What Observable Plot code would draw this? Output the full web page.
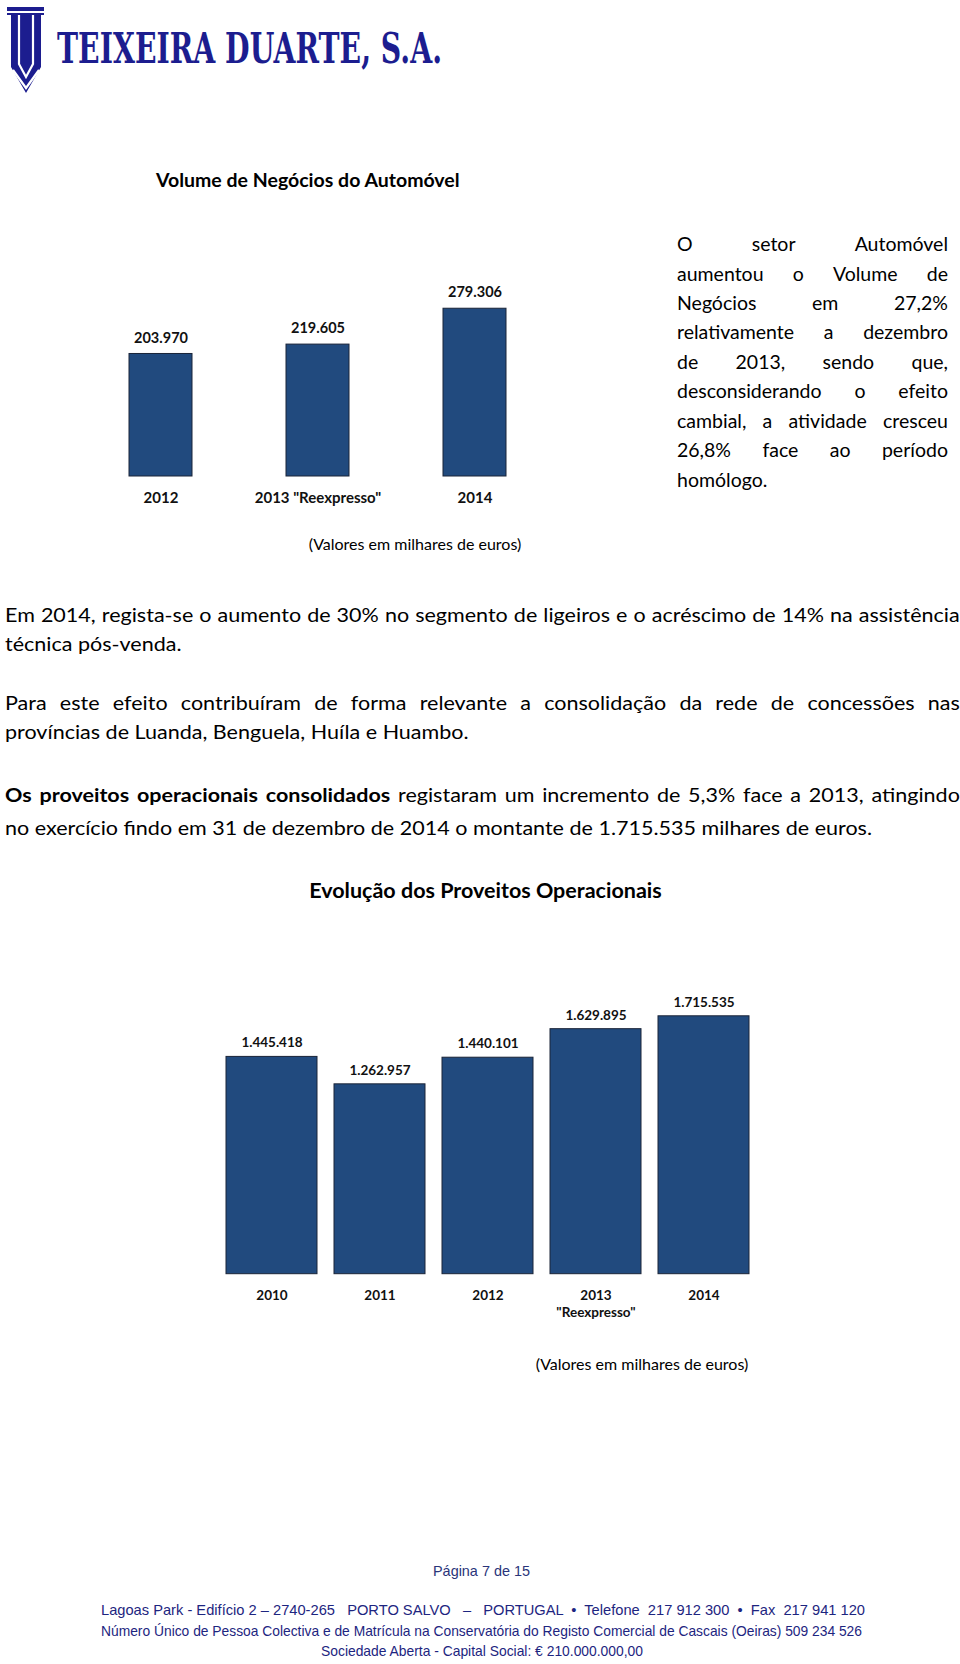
<!DOCTYPE html>
<html lang="pt">
<head>
<meta charset="utf-8">
<script src="https://cdn.jsdelivr.net/npm/d3@7"></script>
<script src="https://cdn.jsdelivr.net/npm/@observablehq/plot@0.6"></script>
<style>
  html, body { margin: 0; padding: 0; background: #fff; }
  #page { position: relative; width: 960px; height: 1664px; overflow: hidden; background: #fff; }
  .ln { position: absolute; height: 30px; line-height: 30px; white-space: nowrap; font-family: Lato, "Open Sans", sans-serif; color: #000; }
  .jst { display: flex; justify-content: space-between; column-gap: 3px; }
  .chart { position: absolute; left: 0; }
  .chart svg { display: block; }
  #deco { position: absolute; left: 0; top: 0; }
</style>
</head>
<body>
<div id="page"></div>
<script>
// ---------- DATA ----------
const autoYears = ["2012", "2013 \"Reexpresso\"", "2014"];
const autoValues = [203970, 219605, 279306];

const provYears = ["2010", "2011", "2012", "2013\n\"Reexpresso\"", "2014"];
const provValues = [1445418, 1262957, 1440101, 1629895, 1715535];

const autoTitle = "Volume de Negócios do Automóvel";
const provTitle = "Evolução dos Proveitos Operacionais";
const unitNote = "(Valores em milhares de euros)";

const sideParagraph = [
  "O setor Automóvel",
  "aumentou o Volume de",
  "Negócios em 27,2%",
  "relativamente a dezembro",
  "de 2013, sendo que,",
  "desconsiderando o efeito",
  "cambial, a atividade cresceu",
  "26,8% face ao período",
  "homólogo."
];
const bodyLines = [
  "Em 2014, regista-se o aumento de 30% no segmento de ligeiros e o acréscimo de 14% na assistência",
  "técnica pós-venda.",
  "Para este efeito contribuíram de forma relevante a consolidação da rede de concessões nas",
  "províncias de Luanda, Benguela, Huíla e Huambo.",
  "**Os proveitos operacionais consolidados** registaram um incremento de 5,3% face a 2013, atingindo",
  "no exercício findo em 31 de dezembro de 2014 o montante de 1.715.535 milhares de euros."
];
const footerLines = [
  "Lagoas Park - Edifício 2 – 2740-265   PORTO SALVO   –   PORTUGAL  •  Telefone  217 912 300  •  Fax  217 941 120",
  "Número Único de Pessoa Colectiva e de Matrícula na Conservatória do Registo Comercial de Cascais (Oeiras) 509 234 526",
  "Sociedade Aberta - Capital Social: € 210.000.000,00"
];
const pageLabel = "Página 7 de 15";
const companyName = "TEIXEIRA DUARTE, S.A.";

// ---------- HELPERS ----------
const page = document.getElementById("page");
const ptLocale = d3.formatLocale({decimal: ",", thousands: ".", grouping: [3], currency: ["", " €"]});
const fmt = ptLocale.format(",d");

function parseSegments(text) {
  const out = [];
  let bold = false;
  text.split(/(\*\*)/).forEach(part => {
    if (part === "**") { bold = !bold; return; }
    part.split(" ").filter(w => w.length).forEach(w => out.push({w, bold}));
  });
  return out;
}
function addLine(text, {x, y, w, size = 18, justify = false, weight = 400, center = false}) {
  const div = document.createElement("div");
  div.className = "ln" + (justify ? " jst" : "");
  div.style.top = (y - 15) + "px";
  div.style.fontSize = size + "px";
  div.style.fontWeight = weight;
  if (center) {
    div.style.left = (x - 500) + "px";
    div.style.width = "1000px";
    div.style.textAlign = "center";
  } else {
    div.style.left = x + "px";
    if (justify && w) div.style.width = w + "px";
  }
  const words = parseSegments(text);
  words.forEach(({w: word, bold}, i) => {
    const s = document.createElement("span");
    s.textContent = justify ? word : (i ? " " : "") + word;
    if (bold) s.style.fontWeight = 700;
    div.appendChild(s);
  });
  page.appendChild(div);
  return div;
}

// ---------- DECORATION (logo + footer) ----------
const NS = "http://www.w3.org/2000/svg";
const deco = document.createElementNS(NS, "svg");
deco.setAttribute("id", "deco");
deco.setAttribute("width", 960);
deco.setAttribute("height", 1664);
const narrow = "'Liberation Sans Narrow','Arial Narrow','Liberation Sans',sans-serif";
deco.innerHTML = `
  <g fill="#1c1d8f">
    <path d="M7,7 H44 V15 H41 V67 L26,93 L11,67 V15 H7 Z"/>
  </g>
  <g stroke="#fff" stroke-width="2.2" fill="none">
    <path d="M7,12 H44"/>
    <path d="M19,15 V64 L26,77 L33,64 V15"/>
    <path d="M13,70 L26,88 L39,70"/>
  </g>
  <text x="57" y="63" font-family="'DejaVu Serif', serif" font-weight="bold" font-size="42"
        fill="#1c1d8f" textLength="385" lengthAdjust="spacingAndGlyphs">${companyName}</text>
  <text x="433" y="1576" font-family="${narrow}"
        font-size="15" fill="#2a347a" textLength="97" lengthAdjust="spacingAndGlyphs">${pageLabel}</text>
  <text x="101" y="1615" style="white-space:pre" font-family="${narrow}"
        font-size="15" fill="#1d2580" textLength="764" lengthAdjust="spacingAndGlyphs">${footerLines[0]}</text>
  <text x="101" y="1635.5" style="white-space:pre" font-family="${narrow}"
        font-size="15" fill="#1d2580" textLength="761" lengthAdjust="spacingAndGlyphs">${footerLines[1]}</text>
  <text x="321" y="1655.6" style="white-space:pre" font-family="${narrow}"
        font-size="15" fill="#1d2580" textLength="322" lengthAdjust="spacingAndGlyphs">${footerLines[2]}</text>
`;
page.appendChild(deco);

// ---------- TEXT ----------
addLine(autoTitle, {x: 156, y: 180, size: 19.5, weight: 700});
const sideYs = [244, 273.7, 303.4, 332, 361.7, 391.4, 421, 450, 479.5];
sideParagraph.forEach((t, i) => addLine(t, {x: 677, y: sideYs[i], w: 271, size: 19.5, justify: i < sideParagraph.length - 1}));
addLine(unitNote, {x: 415, y: 544, size: 16, center: true});

const bodyYs = [615, 644, 703, 732, 794.5, 827.5];
const bodyJust = [true, false, true, false, true, false];
const bodySize = 19.5;
const bodyDivs = bodyLines.map((t, i) => addLine(t, {x: 5, y: bodyYs[i], w: 955, size: bodySize, justify: bodyJust[i]}));
// the scanned page is slightly wider-set than the font: match the last line's width
const natural = bodyDivs[5].getBoundingClientRect().width;
const sx = 867 / natural;
bodyDivs.forEach((d, i) => {
  d.style.transformOrigin = "0 0";
  d.style.transform = `scaleX(${sx})`;
  if (bodyJust[i]) d.style.width = (955 / sx) + "px";
});

addLine(provTitle, {x: 485.5, y: 890, size: 21.5, weight: 700, center: true});
addLine(unitNote, {x: 642, y: 1364, size: 16, center: true});

// ---------- CHARTS ----------
const barFill = "#214a7e";
const barStroke = "#1a2438";

const autoData = autoYears.map((year, i) => ({year, value: autoValues[i]}));
const provData = provYears.map((year, i) => ({year, value: provValues[i]}));

const chart1 = Plot.plot({
  width: 960,
  height: 250,
  marginLeft: 34.5,
  marginRight: 358.9,
  marginTop: 25.8,
  marginBottom: 44,
  style: {fontFamily: "Lato, sans-serif", fontSize: "15px", fontWeight: "bold", color: "#111", background: "transparent"},
  x: {domain: autoYears, padding: 0.5975, label: null},
  y: {domain: [0, 300000], axis: null},
  marks: [
    Plot.barY(autoData, {x: "year", y: "value", fill: barFill, stroke: barStroke, strokeWidth: 1}),
    Plot.text(autoData, {x: "year", y: "value", text: d => fmt(d.value), dy: -16, fontSize: 14.5, fontWeight: "bold", fill: "#111"}),
    Plot.axisX({tickSize: 0, tickPadding: 16, fontSize: 15, fontWeight: "bold", label: null})
  ]
});
const wrap1 = document.createElement("div");
wrap1.className = "chart";
wrap1.style.top = "270px";
wrap1.appendChild(chart1);
page.appendChild(wrap1);

const chart2 = Plot.plot({
  width: 960,
  height: 390,
  marginLeft: 207.5,
  marginRight: 193.5,
  marginTop: 63.1,
  marginBottom: 56.3,
  style: {fontFamily: "Lato, sans-serif", fontSize: "13.5px", fontWeight: "bold", color: "#111", background: "transparent"},
  x: {domain: provYears, padding: 0.1616, label: null},
  y: {domain: [0, 1800000], axis: null},
  marks: [
    Plot.barY(provData, {x: "year", y: "value", fill: barFill, stroke: barStroke, strokeWidth: 1}),
    Plot.text(provData, {x: "year", y: "value", text: d => fmt(d.value), dy: -14, fontSize: 13.5, fontWeight: "bold", fill: "#111"}),
    Plot.axisX({tickSize: 0, tickPadding: 13, fontSize: 13.5, fontWeight: "bold", lineHeight: 1.3, label: null})
  ]
});
const wrap2 = document.createElement("div");
wrap2.className = "chart";
wrap2.style.top = "940px";
wrap2.appendChild(chart2);
page.appendChild(wrap2);
</script>
</body>
</html>
